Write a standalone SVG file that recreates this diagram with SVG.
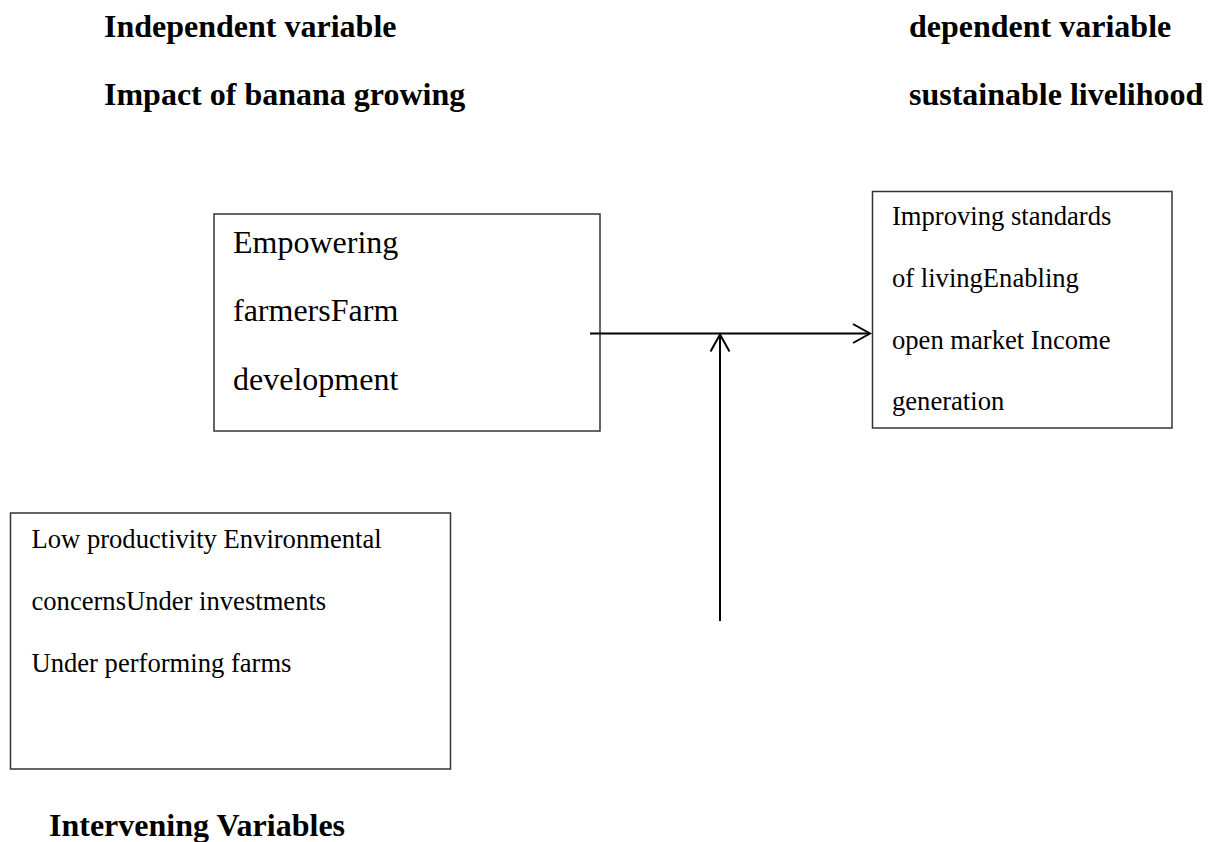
<svg xmlns="http://www.w3.org/2000/svg" width="1208" height="842" viewBox="0 0 1208 842">
  <style>
    .head { font-family: "Liberation Serif", "Times New Roman", serif; font-weight: bold; font-size: 32px; fill: #000; }
    .big { font-family: "Liberation Serif", "Times New Roman", serif; font-size: 32px; fill: #000; }
    .small { font-family: "Liberation Serif", "Times New Roman", serif; font-size: 26.6px; fill: #000; }
    .box { fill: #fff; stroke: #333; stroke-width: 1.5; }
    .conn { fill: none; stroke: #000; stroke-width: 2; }
  </style>
  <defs>
    <marker id="arrow" viewBox="0 0 20 22" refX="18" refY="11" markerWidth="20" markerHeight="22" markerUnits="userSpaceOnUse" orient="auto" overflow="visible">
      <path d="M1,1.5 L18,11 L1,20.5" fill="none" stroke="#000" stroke-width="2"/>
    </marker>
  </defs>
  <rect width="1208" height="842" fill="#fff"/>

  <g id="headings">
    <text class="head" x="104" y="37">Independent variable</text>
    <text class="head" x="104" y="105">Impact of banana growing</text>
    <text class="head" x="909" y="37">dependent variable</text>
    <text class="head" x="909" y="105">sustainable livelihood</text>
    <text class="head" x="49" y="836">Intervening Variables</text>
  </g>

  <g id="node-independent">
    <rect class="box" x="214" y="214" width="386" height="217"/>
    <text class="big" x="233" y="253">Empowering</text>
    <text class="big" x="233" y="321">farmersFarm</text>
    <text class="big" x="233" y="390">development</text>
  </g>

  <g id="node-dependent">
    <rect class="box" x="872.5" y="191.5" width="299.5" height="236.5"/>
    <text class="small" x="892" y="225">Improving standards</text>
    <text class="small" x="892" y="287">of livingEnabling</text>
    <text class="small" x="892" y="349">open market Income</text>
    <text class="small" x="892" y="410">generation</text>
  </g>

  <g id="node-intervening">
    <rect class="box" x="10.5" y="513" width="440" height="256"/>
    <text class="small" x="31.5" y="548">Low productivity Environmental</text>
    <text class="small" x="31.5" y="610">concernsUnder investments</text>
    <text class="small" x="31.5" y="672">Under performing farms</text>
  </g>

  <g id="connectors">
    <line class="conn" x1="590" y1="333.5" x2="870" y2="333.5" marker-end="url(#arrow)"/>
    <line class="conn" x1="720" y1="621" x2="720" y2="334.5" marker-end="url(#arrow)"/>
  </g>
</svg>
